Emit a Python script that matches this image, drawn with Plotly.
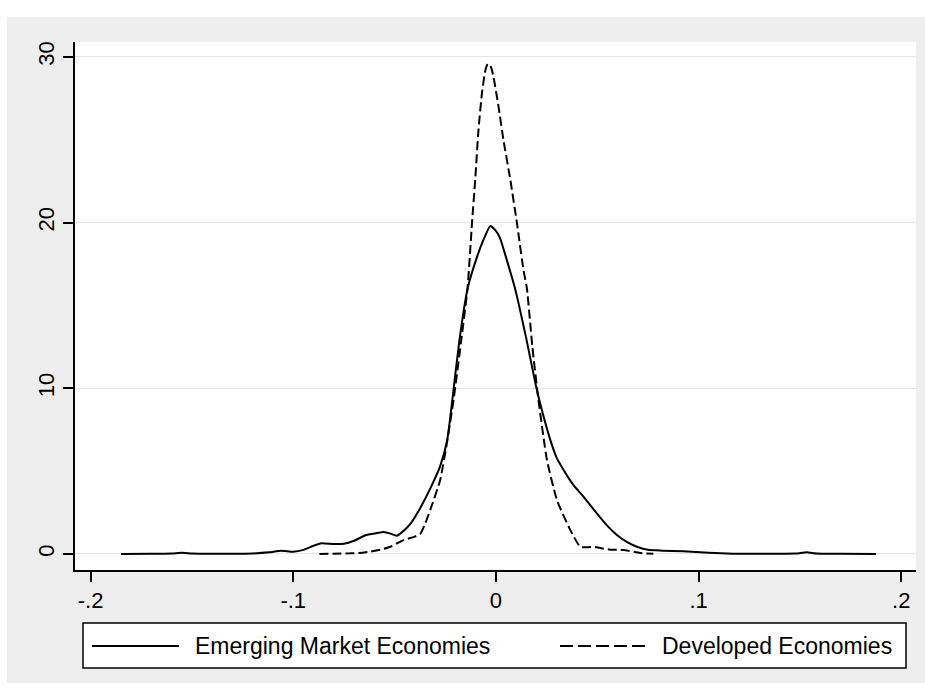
import plotly.graph_objects as go

# Kernel density estimates of the two groups
emerging_name = "Emerging Market Economies"
emerging_x = [-0.185, -0.170, -0.160, -0.155, -0.150, -0.140, -0.130, -0.120, -0.112, -0.106,
              -0.100, -0.095, -0.090, -0.086, -0.080, -0.075, -0.070, -0.064, -0.058, -0.0555,
              -0.052, -0.049, -0.046, -0.042, -0.037, -0.032, -0.0275, -0.024, -0.0215, -0.018,
              -0.014, -0.0094, -0.006, -0.0028, 0.000, 0.0021, 0.005, 0.0095, 0.015, 0.0195,
              0.022, 0.0268, 0.030, 0.0334, 0.038, 0.0432, 0.0498, 0.055, 0.0597, 0.065,
              0.0696, 0.075, 0.082, 0.0925, 0.105, 0.117, 0.135, 0.148, 0.1534, 0.158,
              0.170, 0.1876]
emerging_y = [0.00, 0.01, 0.03, 0.07, 0.03, 0.01, 0.01, 0.03, 0.10, 0.20,
              0.14, 0.25, 0.50, 0.65, 0.60, 0.62, 0.80, 1.15, 1.28, 1.32,
              1.23, 1.10, 1.35, 1.85, 2.85, 4.05, 5.30, 6.90, 9.30, 12.9,
              16.0, 17.9, 19.0, 19.8, 19.5, 19.05, 17.9, 16.0, 13.0, 10.3,
              9.0, 6.9, 5.8, 5.07, 4.2, 3.46, 2.45, 1.70, 1.15, 0.70,
              0.44, 0.25, 0.20, 0.16, 0.07, 0.02, 0.02, 0.03, 0.10, 0.03,
              0.01, 0.00]

developed_name = "Developed Economies"
developed_x = [-0.0871, -0.080, -0.072, -0.066, -0.062, -0.057, -0.052, -0.0456, -0.040, -0.0374,
               -0.035, -0.0324, -0.0275, -0.0242, -0.0209, -0.017, -0.014, -0.0118, -0.0102, -0.0086,
               -0.0069, -0.0052, -0.0040, -0.0025, -0.0012, 0.0013, 0.0037, 0.0071, 0.0104, 0.0136,
               0.0153, 0.018, 0.021, 0.0252, 0.0301, 0.0367, 0.0416, 0.045, 0.0482, 0.052,
               0.0564, 0.063, 0.0712, 0.0777]
developed_y = [0.00, 0.02, 0.04, 0.08, 0.14, 0.26, 0.44, 0.84, 1.05, 1.20,
               1.80, 2.66, 4.47, 6.68, 9.30, 13.0, 16.03, 19.96, 22.6, 25.6,
               27.8, 29.2, 29.6, 29.4, 28.8, 27.0, 25.0, 22.6, 19.96, 17.14,
               16.03, 12.5, 9.3, 5.67, 3.26, 1.45, 0.44, 0.40, 0.44, 0.35,
               0.26, 0.24, 0.06, 0.02]

x_ticks = [-0.2, -0.1, 0.0, 0.1, 0.2]
x_tick_labels = ["-.2", "-.1", "0", ".1", ".2"]
y_ticks = [0, 10, 20, 30]
y_tick_labels = ["0", "10", "20", "30"]

FONT = "Liberation Sans, Arial, sans-serif"
W, H = 925, 693
ML, MR, MT, MB = 75, 9, 42, 123
PW, PH = W - ML - MR, H - MT - MB


def px(xp):
    return (xp - ML) / PW


def py(yp):
    return (H - MB - yp) / PH


fig = go.Figure()
fig.add_trace(go.Scatter(x=emerging_x, y=emerging_y, mode="lines", name=emerging_name,
                         line=dict(color="black", width=2, shape="spline", smoothing=0.5)))
fig.add_trace(go.Scatter(x=developed_x, y=developed_y, mode="lines", name=developed_name,
                         line=dict(color="black", width=2, dash="9px,4px",
                                   shape="spline", smoothing=0.5)))

shapes = [
    # grey graph region and white plot region
    dict(type="rect", xref="paper", yref="paper", layer="below",
         x0=px(7), x1=px(925), y0=py(683), y1=py(17),
         fillcolor="#EEEEEE", line=dict(width=0)),
    dict(type="rect", xref="paper", yref="paper", layer="below",
         x0=0, x1=1, y0=0, y1=1, fillcolor="white", line=dict(width=0)),
    # legend frame
    dict(type="rect", xref="paper", yref="paper", layer="above",
         x0=px(83), x1=px(906), y0=py(668), y1=py(623),
         fillcolor="white", line=dict(color="black", width=1.5)),
    dict(type="line", xref="paper", yref="paper", layer="above",
         x0=px(92), x1=px(179), y0=py(646), y1=py(646),
         line=dict(color="black", width=2)),
    dict(type="line", xref="paper", yref="paper", layer="above",
         x0=px(560), x1=px(648), y0=py(646), y1=py(646),
         line=dict(color="black", width=2, dash="13px,5px")),
]

annotations = [
    dict(xref="paper", yref="paper", x=px(193), y=py(646), text=emerging_name,
         showarrow=False, xanchor="left", yanchor="middle",
         font=dict(family=FONT, size=23, color="black")),
    dict(xref="paper", yref="paper", x=px(660), y=py(646), text=developed_name,
         showarrow=False, xanchor="left", yanchor="middle",
         font=dict(family=FONT, size=23, color="black")),
]

fig.update_layout(
    width=W, height=H, autosize=False,
    margin=dict(l=ML, r=MR, t=MT, b=MB, pad=0),
    paper_bgcolor="white", plot_bgcolor="white",
    showlegend=False,
    shapes=shapes, annotations=annotations,
    font=dict(family=FONT, size=22, color="black"),
    xaxis=dict(range=[-0.2077, 0.2073], tickmode="array", tickvals=x_ticks,
               ticktext=x_tick_labels, showgrid=False, zeroline=False,
               showline=True, linecolor="black", linewidth=2,
               ticks="outside", ticklen=10, tickwidth=1.5, tickcolor="black",
               tickfont=dict(family=FONT, size=22, color="black")),
    yaxis=dict(range=[-0.966, 30.9], tickmode="array", tickvals=y_ticks,
               ticktext=y_tick_labels, tickangle=-90,
               showgrid=True, gridcolor="#E6E6E6", gridwidth=1, zeroline=False,
               showline=True, linecolor="black", linewidth=2,
               ticks="outside", ticklen=10, tickwidth=1.5, tickcolor="black",
               tickfont=dict(family=FONT, size=22, color="black")),
)

fig.write_html("out.html")
